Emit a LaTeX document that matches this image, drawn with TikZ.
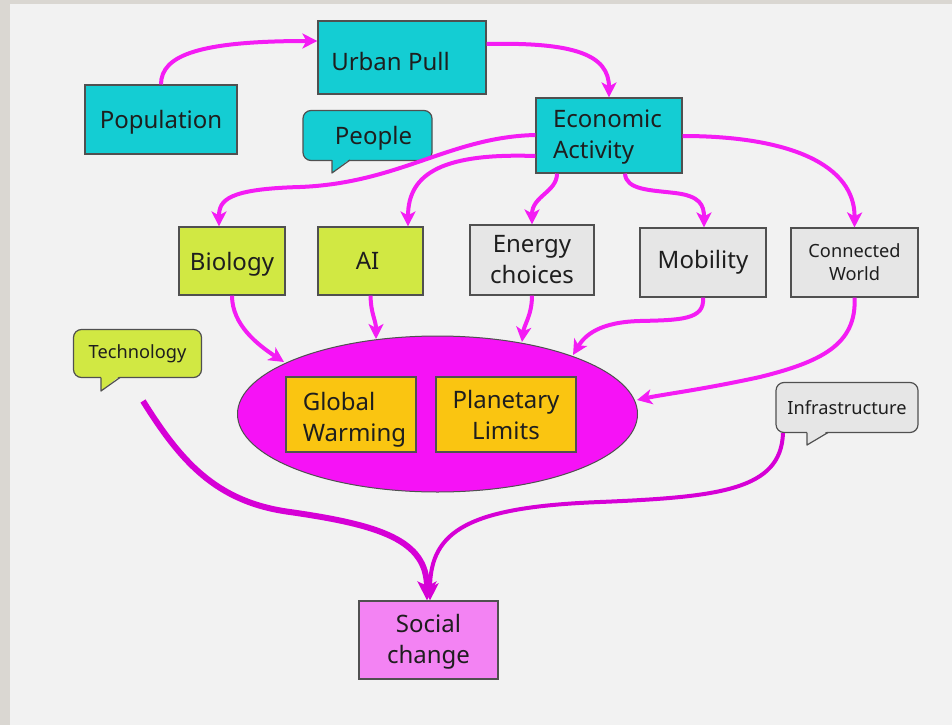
\documentclass[tikz,border=0pt]{standalone}
\usepackage{fontspec}
\setmainfont{Noto Sans}
\usetikzlibrary{arrows.meta,shapes.geometric}

\definecolor{framecol}{HTML}{DAD7D2}
\definecolor{bgcol}{HTML}{F2F2F2}
\definecolor{tealfill}{HTML}{14CDD3}
\definecolor{limefill}{HTML}{D1E843}
\definecolor{grayfill}{HTML}{E6E6E6}
\definecolor{orangefill}{HTML}{FAC511}
\definecolor{pinkfill}{HTML}{F383F3}
\definecolor{ellfill}{HTML}{F612F6}
\definecolor{magline}{HTML}{F41CF4}
\definecolor{darkmag}{HTML}{D600D6}
\definecolor{edgecol}{HTML}{505050}
\definecolor{txtcol}{HTML}{1E1E1E}

\newcommand{\bigtxt}{\fontsize{24}{31}\selectfont}
\newcommand{\smalltxt}{\fontsize{18.2}{23}\selectfont}

\tikzset{
  box/.style={draw=edgecol, line width=1.2pt, inner sep=0pt, text=txtcol,
    font=\bigtxt, align=center},
  oneline/.style={text depth=0pt},
  smallbox/.style={box, font=\smalltxt},
  bubble/.style={box, rounded corners=8pt},
  label text/.style={inner sep=0pt, text=txtcol, font=\bigtxt, align=left},
  flow/.style={draw=magline, line width=4pt,
    -{Stealth[length=15pt,width=15pt,inset=4pt]}},
  bigflow/.style={draw=darkmag, line width=6pt,
    -{Stealth[length=19pt,width=19pt,inset=5pt]}},
  sideflow/.style={draw=darkmag, line width=4pt,
    -{Stealth[length=17pt,width=17pt,inset=4pt]}},
}

\begin{document}
\begin{tikzpicture}[x=1pt,y=-1pt]
  % page and frame
  \useasboundingbox (0,0) rectangle (952,725);
  \fill[framecol] (0,0) rectangle (952,725);
  \fill[bgcol] (10,4) rectangle (952,725);

  % top row
  \node[box, oneline, fill=tealfill, minimum width=152pt, minimum height=69pt] (pop) at (161,119.5) {Population};
  \node[box, fill=tealfill, minimum width=168pt, minimum height=73pt] (urban) at (402,57.5) {};
  \node[label text, oneline] (urbantxt) at (390.5,61) {Urban Pull};
  \node[box, fill=tealfill, minimum width=146pt, minimum height=75pt] (econ) at (609,135.5) {};
  \node[label text] (econtxt) at (607.5,137) {Economic\\Activity};

  % speech bubble: People
  \node[bubble, oneline, fill=tealfill, minimum width=129pt, minimum height=50pt] (people) at (367.5,135.5) {\hspace*{12pt}People};
  \fill[tealfill] (332,158) -- (332,173) -- (351,158) -- cycle;
  \draw[edgecol, line width=1.2pt, line join=round] (332,160) -- (332,173) -- (350,160);

  % middle row
  \node[box, oneline, fill=limefill, minimum width=106pt, minimum height=68pt] (bio) at (232,261) {Biology};
  \node[box, fill=limefill, minimum width=105pt, minimum height=68pt] (ai) at (370.5,261) {\hspace*{-6pt}AI};
  \node[box, fill=grayfill, minimum width=124pt, minimum height=70pt] (energy) at (532,260) {Energy\\choices};
  \node[box, fill=grayfill, minimum width=126pt, minimum height=69pt] (mob) at (703,262.5) {Mobility};
  \node[smallbox, fill=grayfill, minimum width=127pt, minimum height=69pt] (conn) at (854.5,262.5) {Connected\\World};

  % speech bubble: Technology
  \node[bubble, font=\smalltxt, fill=limefill, minimum width=128pt, minimum height=48pt] (tech) at (137.5,353.5) {Technology};
  \fill[limefill] (101,375) -- (101,391) -- (121,375) -- cycle;
  \draw[edgecol, line width=1.2pt, line join=round] (101,377.5) -- (101,391) -- (120,377.5);

  % speech bubble: Infrastructure
  \node[bubble, font=\smalltxt, fill=grayfill, minimum width=142pt, minimum height=50pt] (infra) at (847,407.5) {Infrastructure};
  \fill[grayfill] (807,430) -- (807,445) -- (829,430) -- cycle;
  \draw[edgecol, line width=1.2pt, line join=round] (807,432.5) -- (807,445) -- (828,432.5);

  % central ellipse with its two boxes
  \node[ellipse, draw=edgecol, line width=1pt, fill=ellfill, minimum width=400pt, minimum height=156pt, inner sep=0pt] (core) at (437.5,414) {};
  \node[box, fill=orangefill, minimum width=130pt, minimum height=75pt] (warm) at (351,414.5) {};
  \node[label text] (warmtxt) at (354.5,419.5) {Global\\Warming};
  \node[box, fill=orangefill, minimum width=140pt, minimum height=75pt] (limits) at (506,414.5) {Planetary\\Limits};

  % bottom
  \node[box, fill=pinkfill, minimum width=139pt, minimum height=78pt] (social) at (428.5,640) {};
  \node[label text, align=center] (socialtxt) at (428.5,641.5) {Social\\change};

  % connectors, top
  \draw[flow] (pop.north) .. controls (161,55) and (200,41) .. (urban.west |- 0,41);
  \draw[flow] (urban.east |- 0,44) .. controls (575,42) and (609,55) .. (econ.north);
  \draw[flow] (econ.west |- 0,135) .. controls (450,137) and (400,183) .. (300,187)
              .. controls (228,189) and (219,200) .. (bio.north -| 219,0);
  \draw[flow] (econ.west |- 0,156) .. controls (445,153) and (408,172) .. (ai.north -| 408,0);
  \draw[flow] (econ.south -| 557,0) .. controls (557,192) and (532,196) .. (energy.north);
  \draw[flow] (econ.south -| 625,0) .. controls (626,190) and (650,190) .. (675,193)
              .. controls (700,196) and (704,205) .. (mob.north -| 704,0);
  \draw[flow] (econ.east |- 0,136) .. controls (790,136) and (855,165) .. (conn.north);

  % connectors into the ellipse
  \draw[flow] (bio.south) .. controls (232,325) and (258,345) .. (284,362);
  \draw[flow] (ai.south) .. controls (371,315) and (376,320) .. (376,339);
  \draw[flow] (energy.south) .. controls (532,315) and (524,325) .. (522,342);
  \draw[flow] (mob.south) .. controls (705,320) and (680,320) .. (640,321)
              .. controls (600,322) and (585,335) .. (573,355);
  \draw[flow] (conn.south) .. controls (857,345) and (820,362) .. (760,377)
              .. controls (700,390) and (665,394) .. (637,400);

  % connectors into social change
  \coordinate (techend) at (143,401);
  \draw[bigflow] (techend) .. controls (180,460) and (215,502) .. (290,512)
              .. controls (380,525) and (427,540) .. (social.north -| 427,0);
  \draw[sideflow] (infra.south -| 783,0) .. controls (781,490) and (720,497) .. (600,502)
              .. controls (470,507) and (430,530) .. (social.north -| 430,0);
\end{tikzpicture}
\end{document}
